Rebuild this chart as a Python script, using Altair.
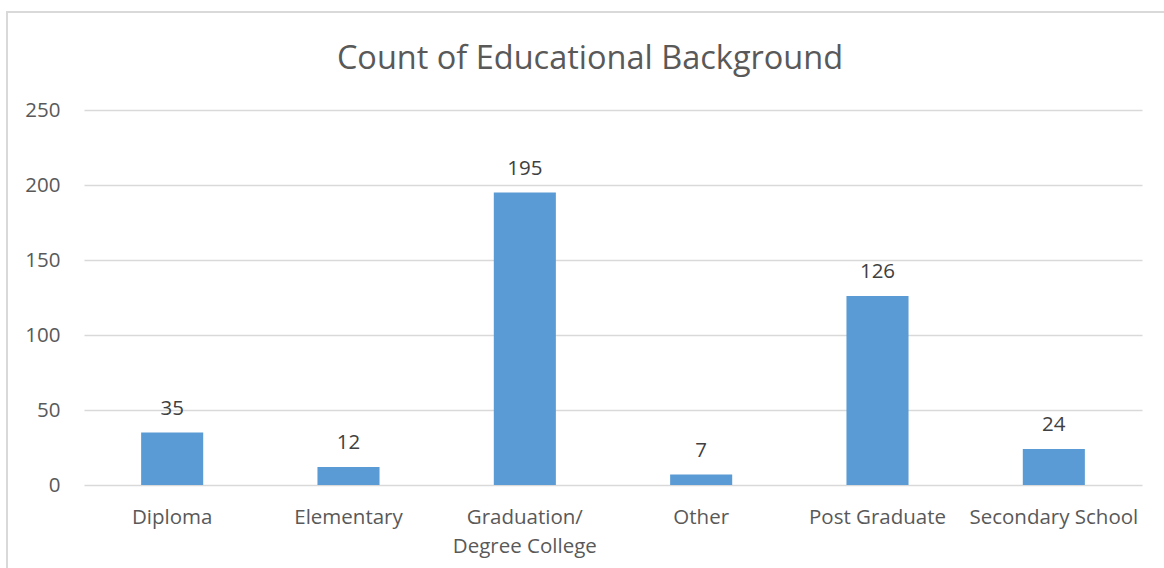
import altair as alt
import pandas as pd

categories = ["Diploma", "Elementary", "Graduation/\nDegree College", "Other", "Post Graduate", "Secondary School"]
counts = [35, 12, 195, 7, 126, 24]
title_text = ["Count of Educational Background"]

df = pd.DataFrame({"cat": categories, "count": counts})
tdf = pd.DataFrame({"t": title_text})

FONT = "Open Sans"

x_enc = alt.X(
    "cat:N", sort=None, title=None,
    scale=alt.Scale(paddingInner=0.648, paddingOuter=0.324),
    axis=alt.Axis(labelAngle=0, labelFont=FONT, labelFontSize=20.5, labelColor="#595959",
                  labelPadding=22, domain=False, ticks=False, grid=False,
                  labelExpr="split(datum.label, '\\n')", labelLineHeight=29, labelBaseline="top"),
)
y_enc = alt.Y(
    "count:Q", title=None,
    scale=alt.Scale(domain=[0, 250], nice=False),
    axis=alt.Axis(values=[0, 50, 100, 150, 200, 250], labelFont=FONT, labelFontSize=20.5,
                  labelColor="#595959", labelPadding=24, domain=False, ticks=False,
                  gridColor="#d9d9d9", gridWidth=1.3),
)

bars = alt.Chart(df).mark_bar(color="#5B9BD5").encode(x=x_enc, y=y_enc)
labels = alt.Chart(df).mark_text(font=FONT, fontSize=20.5, color="#404040", baseline="bottom", dy=-14).encode(
    x=alt.X("cat:N", sort=None), y="count:Q", text="count:Q"
)
border = alt.Chart(df).mark_rect(fill=None, stroke="#d9d9d9", strokeWidth=1.5, clip=False).encode(
    x=alt.value(-77), x2=alt.value(1090), y=alt.value(-98), y2=alt.value(500)
)
title = alt.Chart(tdf).mark_text(font=FONT, fontSize=32.5, color="#595959", baseline="middle", align="center").encode(
    x=alt.value(506), y=alt.value(-51), text="t:N"
)

chart = alt.layer(border, bars, labels, title).properties(
    width=1058, height=375,
    background="white",
    padding={"left": 84, "top": 110, "right": 22, "bottom": 83},
    autosize=alt.AutoSizeParams(type="none"),
).configure_view(strokeWidth=0, stroke="transparent")

chart.save("out.html", embed_options={"renderer": "svg", "actions": False})
